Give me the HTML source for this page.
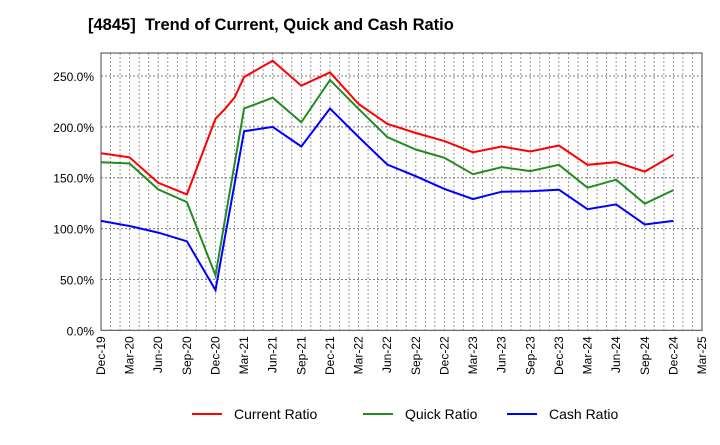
<!DOCTYPE html>
<html><head><meta charset="utf-8"><style>
body{margin:0;background:#fff;font-family:"Liberation Sans",sans-serif}
svg text{font-family:"Liberation Sans",sans-serif}
</style></head><body>
<svg id="chart" width="720" height="440" xmlns="http://www.w3.org/2000/svg">
<text x="88" y="30" font-size="16.5" font-weight="bold" fill="#000" style="white-space:pre">[4845]  Trend of Current, Quick and Cash Ratio</text>
<g id="grid"></g><g id="axes"></g><g id="series"></g>
<g>
<line x1="192" y1="414" x2="222" y2="414" stroke="#ff0000" stroke-width="2"/>
<text x="234" y="419" font-size="14">Current Ratio</text>
<line x1="363" y1="414" x2="393" y2="414" stroke="#228b22" stroke-width="2"/>
<text x="405" y="419" font-size="14">Quick Ratio</text>
<line x1="507" y1="414" x2="537" y2="414" stroke="#0000ff" stroke-width="2"/>
<text x="549" y="419" font-size="14">Cash Ratio</text>
</g>
</svg>
<script>
// month index from Dec-19
const monthIdx = [0,3,6,9,12,13,14,15,18,21,24,27,30,33,36,39,42,45,48,51,54,57,60];
const currentRatio = [174,170,145,133.6,208,217.6,229,249,265,240.5,253.5,222.5,203,194,186,175,180.7,175.8,181.7,162.7,165.3,156,172.5];
const quickRatio = [165.3,164,138.5,126,54,109,163.7,218,228.7,204.5,246,217.6,190,177.7,169.6,153.5,160.4,156.5,162.7,140.2,148,124.5,137.8];
const cashRatio = [107.5,102.5,96,87.5,39.5,92,144,195.7,200,180.7,218,190,163,151.5,139,129,136.3,136.6,138.2,119,123.8,104,107.5];
const xLabels = ["Dec-19","Mar-20","Jun-20","Sep-20","Dec-20","Mar-21","Jun-21","Sep-21","Dec-21","Mar-22","Jun-22","Sep-22","Dec-22","Mar-23","Jun-23","Sep-23","Dec-23","Mar-24","Jun-24","Sep-24","Dec-24","Mar-25"];
const yTicks = [0,50,100,150,200,250];

const L=101,R=702,T=53,B=330.3,totalMonths=63,yMax=272.6;
const X=m=>L+m*(R-L)/totalMonths;
const Y=v=>B-v*(B-T)/yMax;
const NS="http://www.w3.org/2000/svg";
function mk(tag,attrs,parent){const e=document.createElementNS(NS,tag);for(const k in attrs)e.setAttribute(k,attrs[k]);parent.appendChild(e);return e;}
const grid=document.getElementById('grid'),axes=document.getElementById('axes'),ser=document.getElementById('series');
for(let m=1;m<totalMonths;m++){
  const g=mk('line',{x1:X(m),x2:X(m),y1:T,y2:B,stroke:'#999','stroke-width':1,'stroke-dasharray':'2,2'},grid);
  
  
}
yTicks.forEach(v=>{
  if(v>0){const g=mk('line',{x1:L,x2:R,y1:Y(v),y2:Y(v),stroke:'#777','stroke-width':1,'stroke-dasharray':'2,2'},grid);
  
  }
  const t=mk('text',{x:L-7,y:Y(v)+5,'font-size':12,'text-anchor':'end',fill:'#000'},axes);
  t.textContent=v.toFixed(1)+'%';
  
  
});
xLabels.forEach((s,i)=>{
  const x=X(i*3);
  const t=mk('text',{x:0,y:0,'font-size':12,'text-anchor':'end',transform:`translate(${x+4},${B+6}) rotate(-90)`},axes);
  t.textContent=s;
  
  
});
const frame=mk('rect',{x:L,y:T,width:R-L,height:B-T,fill:'none',stroke:'#444','stroke-width':1},axes);


[[currentRatio,'#ff0000','current-ratio-line'],[quickRatio,'#228b22','quick-ratio-line'],[cashRatio,'#0000ff','cash-ratio-line']].forEach(([d,c,n])=>{
  const pts=d.map((v,i)=>X(monthIdx[i]).toFixed(1)+','+Y(v).toFixed(1)).join(' ');
  const p=mk('polyline',{points:pts,fill:'none',stroke:c,'stroke-width':2},ser);
  
  
});
</script>
</body></html>
